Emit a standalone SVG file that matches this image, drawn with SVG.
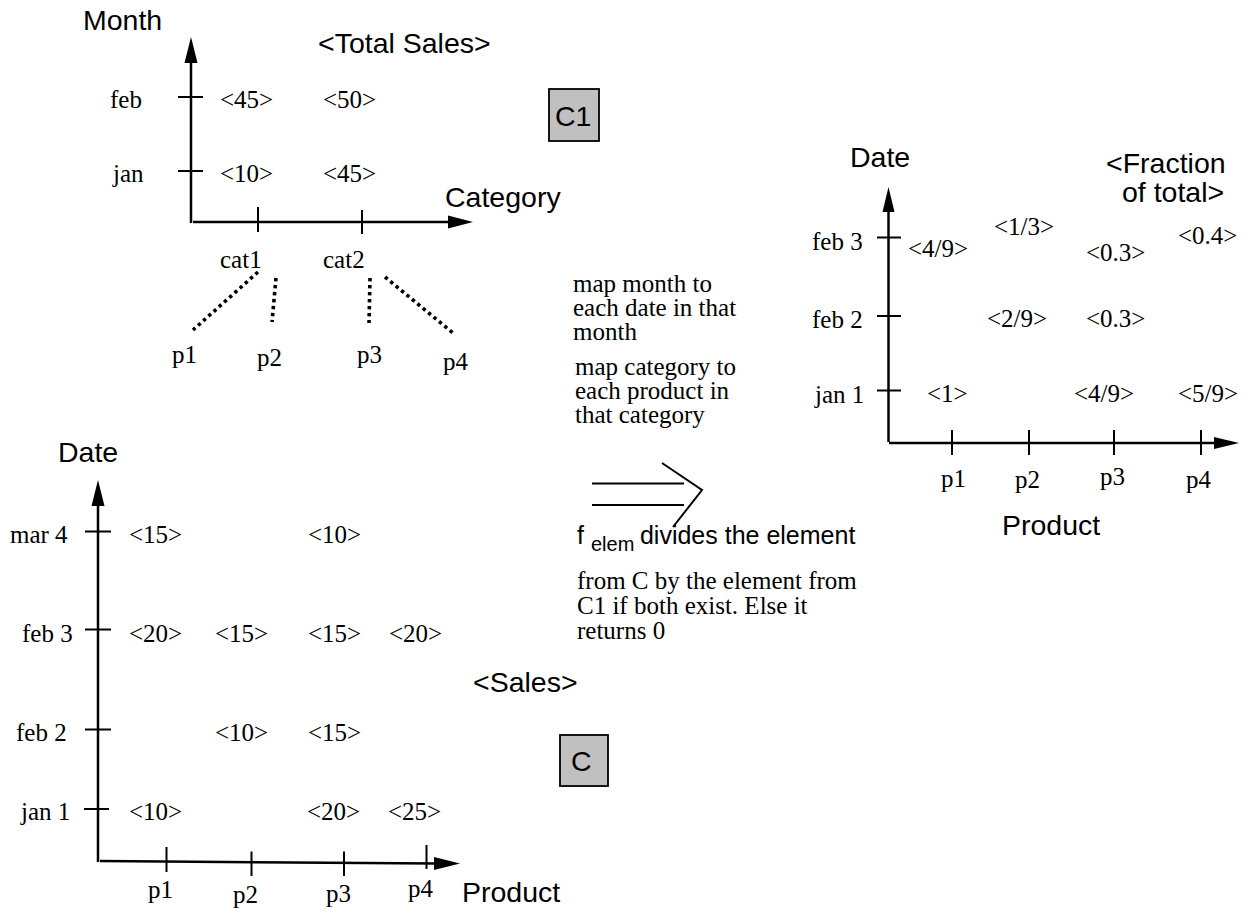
<svg xmlns="http://www.w3.org/2000/svg" width="1251" height="917" viewBox="0 0 1251 917">
  <style>
    .axis { stroke: #000; stroke-width: 2.5; fill: none; }
    .tick { stroke: #000; stroke-width: 2; fill: none; }
    .head { fill: #000; stroke: none; }
    .dot { stroke: #000; stroke-width: 3.6; stroke-dasharray: 3.4 3.6; fill: none; }
    .big { stroke: #000; stroke-width: 2; fill: none; }
    .sans { font-family: "Liberation Sans", Arial, sans-serif; font-size: 28.5px; fill: #000; }
    .serif { font-family: "Liberation Serif", "Times New Roman", serif; font-size: 25px; fill: #000; }
    .note { font-family: "Liberation Sans", Arial, sans-serif; font-size: 25px; fill: #000; }
    .sub { font-family: "Liberation Sans", Arial, sans-serif; font-size: 20px; fill: #000; }
    .cube { fill: #c0c0c0; stroke: #000; stroke-width: 1.8; }
  </style>

  <rect width="1251" height="917" fill="#fff"/>

  <!-- C1: total sales by month and category -->
  <g id="c1-chart">
    <line class="axis" x1="191" y1="223" x2="191" y2="60"/>
    <polygon class="head" points="191,37 184.5,63 197.5,63"/>
    <line class="axis" x1="193" y1="222" x2="450" y2="222"/>
    <polygon class="head" points="473,222 448,215.5 448,228.5"/>
    <line class="tick" x1="178" y1="97" x2="203" y2="97"/>
    <line class="tick" x1="178" y1="171" x2="203" y2="171"/>
    <line class="tick" x1="258" y1="207" x2="258" y2="232"/>
    <line class="tick" x1="362" y1="210" x2="362" y2="234"/>
    <text class="sans" x="83" y="30">Month</text>
    <text class="sans" x="318" y="53">&lt;Total Sales&gt;</text>
    <text class="sans" x="445" y="207">Category</text>
    <text class="serif" x="110" y="108">feb</text>
    <text class="serif" x="113" y="182">jan</text>
    <text class="serif" x="220" y="108">&lt;45&gt;</text>
    <text class="serif" x="323" y="108">&lt;50&gt;</text>
    <text class="serif" x="220" y="182">&lt;10&gt;</text>
    <text class="serif" x="323" y="182">&lt;45&gt;</text>
    <text class="serif" x="220" y="268">cat1</text>
    <text class="serif" x="323" y="268">cat2</text>
    <text class="serif" x="172" y="363">p1</text>
    <text class="serif" x="257" y="366">p2</text>
    <text class="serif" x="357" y="363">p3</text>
    <text class="serif" x="443" y="370">p4</text>
  </g>

  <g id="c1-box">
    <rect class="cube" x="549" y="89" width="50" height="52"/>
    <text class="sans" x="555" y="126">C1</text>
  </g>

  <!-- C: sales by date and product -->
  <g id="c-chart">
    <line class="axis" x1="98" y1="862" x2="98" y2="503"/>
    <polygon class="head" points="98,480 91.5,506 104.5,506"/>
    <line class="axis" x1="100" y1="861" x2="437" y2="863.5"/>
    <polygon class="head" points="460,863.5 434,857 434,870"/>
    <line class="tick" x1="85" y1="531.5" x2="111" y2="531.5"/>
    <line class="tick" x1="85" y1="629.5" x2="111" y2="629.5"/>
    <line class="tick" x1="85" y1="729.5" x2="111" y2="729.5"/>
    <line class="tick" x1="84" y1="809" x2="109" y2="809"/>
    <line class="tick" x1="166.5" y1="847" x2="166.5" y2="872"/>
    <line class="tick" x1="251.5" y1="851.5" x2="251.5" y2="876"/>
    <line class="tick" x1="344" y1="851.5" x2="344" y2="876"/>
    <line class="tick" x1="426.5" y1="845" x2="426.5" y2="869"/>
    <text class="sans" x="58" y="462">Date</text>
    <text class="sans" x="462" y="902">Product</text>
    <text class="sans" x="473" y="692">&lt;Sales&gt;</text>
    <text class="serif" x="10" y="543">mar 4</text>
    <text class="serif" x="22" y="642">feb 3</text>
    <text class="serif" x="16" y="741">feb 2</text>
    <text class="serif" x="21" y="820">jan 1</text>
    <text class="serif" x="129" y="543">&lt;15&gt;</text>
    <text class="serif" x="308" y="543">&lt;10&gt;</text>
    <text class="serif" x="129" y="642">&lt;20&gt;</text>
    <text class="serif" x="215" y="642">&lt;15&gt;</text>
    <text class="serif" x="308" y="642">&lt;15&gt;</text>
    <text class="serif" x="389" y="642">&lt;20&gt;</text>
    <text class="serif" x="215" y="741">&lt;10&gt;</text>
    <text class="serif" x="308" y="741">&lt;15&gt;</text>
    <text class="serif" x="129" y="820">&lt;10&gt;</text>
    <text class="serif" x="307" y="820">&lt;20&gt;</text>
    <text class="serif" x="388" y="820">&lt;25&gt;</text>
    <text class="serif" x="148" y="898">p1</text>
    <text class="serif" x="233" y="903">p2</text>
    <text class="serif" x="326" y="902">p3</text>
    <text class="serif" x="408" y="897">p4</text>
  </g>

  <g id="c-box">
    <rect class="cube" x="560" y="735" width="48" height="51"/>
    <text class="sans" x="571" y="771">C</text>
  </g>

  <!-- Result: fraction of total by date and product -->
  <g id="result-chart">
    <line class="axis" x1="888.5" y1="442" x2="888.5" y2="209"/>
    <polygon class="head" points="888.5,187 882.5,212 894.5,212"/>
    <line class="axis" x1="889" y1="443" x2="1217" y2="443"/>
    <polygon class="head" points="1239,443 1214,437 1214,449"/>
    <line class="tick" x1="877" y1="237.5" x2="901" y2="237.5"/>
    <line class="tick" x1="877" y1="316" x2="901" y2="316"/>
    <line class="tick" x1="877" y1="390.5" x2="901" y2="390.5"/>
    <line class="tick" x1="952" y1="430" x2="952" y2="455"/>
    <line class="tick" x1="1029" y1="430" x2="1029" y2="455"/>
    <line class="tick" x1="1114" y1="430" x2="1114" y2="455"/>
    <line class="tick" x1="1201" y1="430" x2="1201" y2="455"/>
    <text class="sans" x="850" y="167">Date</text>
    <text class="sans" x="1106" y="173">&lt;Fraction</text>
    <text class="sans" x="1122" y="202">of total&gt;</text>
    <text class="sans" x="1002" y="535">Product</text>
    <text class="serif" x="812" y="250">feb 3</text>
    <text class="serif" x="812" y="328">feb 2</text>
    <text class="serif" x="815" y="403">jan 1</text>
    <text class="serif" x="908" y="257">&lt;4/9&gt;</text>
    <text class="serif" x="994" y="235">&lt;1/3&gt;</text>
    <text class="serif" x="1086" y="261">&lt;0.3&gt;</text>
    <text class="serif" x="1178" y="244">&lt;0.4&gt;</text>
    <text class="serif" x="987" y="327">&lt;2/9&gt;</text>
    <text class="serif" x="1086" y="327">&lt;0.3&gt;</text>
    <text class="serif" x="927" y="402">&lt;1&gt;</text>
    <text class="serif" x="1074" y="402">&lt;4/9&gt;</text>
    <text class="serif" x="1178" y="402">&lt;5/9&gt;</text>
    <text class="serif" x="941" y="487">p1</text>
    <text class="serif" x="1015" y="488">p2</text>
    <text class="serif" x="1100" y="485">p3</text>
    <text class="serif" x="1186" y="488">p4</text>
  </g>

  <!-- Mapping explanation -->
  <g id="notes">
    <text class="serif" x="573" y="292">map month to<tspan x="573" dy="24">each date in that</tspan><tspan x="573" dy="24">month</tspan></text>
    <text class="serif" x="575" y="375">map category to<tspan x="575" dy="24">each product in</tspan><tspan x="575" dy="24">that category</tspan></text>
    <text class="note" x="577" y="544">f<tspan class="sub" x="591" y="551">elem</tspan><tspan x="633" y="544"> divides the element</tspan></text>
    <text class="serif" x="577" y="589">from C by the element from<tspan x="577" dy="25">C1 if both exist. Else it</tspan><tspan x="577" dy="25">returns 0</tspan></text>
  </g>

  <!-- Connectors: category-to-product links and the transformation arrow -->
  <g id="connectors">
    <line class="dot" x1="258" y1="272" x2="193" y2="330"/>
    <line class="dot" x1="276" y1="278" x2="272" y2="322"/>
    <line class="dot" x1="370" y1="278" x2="369" y2="323"/>
    <line class="dot" x1="385" y1="277" x2="453" y2="333"/>
    <line class="big" x1="592" y1="483.5" x2="684" y2="483.5"/>
    <line class="big" x1="592" y1="505" x2="684" y2="505"/>
    <polyline class="big" points="662,463 702,490 673,527"/>
  </g>
</svg>
